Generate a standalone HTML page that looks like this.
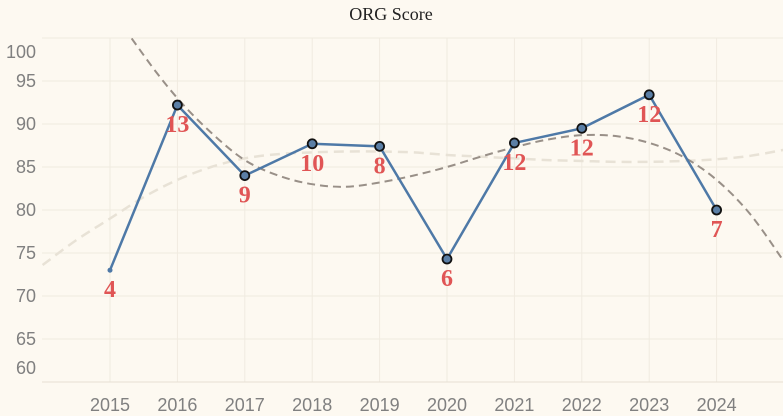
<!DOCTYPE html>
<html><head><meta charset="utf-8">
<style>
html,body{margin:0;padding:0;background:#fdf9f1;}
svg{display:block;font-family:"Liberation Serif",serif;}
</style></head>
<body>
<svg id="chart" width="783" height="416" viewBox="0 0 783 416">
<rect width="783" height="416" fill="#fdf9f1"/>
<text x="391" y="20" text-anchor="middle" font-size="18" fill="#222">ORG Score</text>
<defs><clipPath id="clip"><rect x="42" y="38" width="741" height="344"/></clipPath></defs>
<g id="grid"></g><g id="yaxis"></g><g id="xaxis"></g><g id="trends"></g><g id="series"></g><g id="labels"></g>
</svg>
<script>
const years=[2015,2016,2017,2018,2019,2020,2021,2022,2023,2024];
const scores=[73.0,92.2,84.0,87.7,87.4,74.3,87.8,89.5,93.4,80.0];
const counts=[4,13,9,10,8,6,12,12,12,7];
const yTicks=[60,65,70,75,80,85,90,95,100];
const trendYears=[2014,2014.5,2015,2015.5,2016,2016.5,2017,2017.5,2018,2018.5,2019,2019.5,2020,2020.5,2021,2021.5,2022,2022.5,2023,2023.5,2024,2024.5,2025];
const trendDark=[125,113,104,98,93,89,85.8,84,83,82.7,83.2,84,85,86.2,87.3,88.2,88.7,88.6,87.8,86.2,83.5,79.5,74];
const trendLight=[73.6,76.5,79,81.5,83.5,85,86,86.5,86.7,86.8,86.8,86.7,86.4,86.2,86,85.8,85.7,85.6,85.6,85.7,85.9,86.3,87];
const NS="http://www.w3.org/2000/svg";
const X=y=>110+(y-2015)*67.4;
const Y=v=>124+(90-v)*8.6;
function mk(tag,attrs,parent){const e=document.createElementNS(NS,tag);for(const k in attrs)e.setAttribute(k,attrs[k]);document.getElementById(parent).appendChild(e);return e;}
yTicks.forEach(t=>{
  const l=mk('line',{x1:42,x2:783,y1:Y(t),y2:Y(t),stroke:'#f0ebe0','stroke-width':1},'grid');
  
  
  let ty=Y(t)+6; if(t===100) ty=58; if(t===60) ty=374;
  const tx=mk('text',{x:36,y:ty,'text-anchor':'end','font-size':18,fill:'#808080','font-family':'"Liberation Sans",sans-serif'},'yaxis');
  tx.textContent=t;
  
  
});
years.forEach(y=>{
  const l=mk('line',{x1:X(y),x2:X(y),y1:38,y2:382,stroke:'#f0ebe0','stroke-width':1},'grid');
  
  
  const tx=mk('text',{x:X(y),y:411,'text-anchor':'middle','font-size':18,fill:'#808080','font-family':'"Liberation Sans",sans-serif'},'xaxis');
  tx.textContent=y;
  
  
});
const ax=mk('line',{x1:42,x2:783,y1:382,y2:382,stroke:'#e6e0d4'},'xaxis');


function smooth(xs,vs){const p=xs.map((x,i)=>[X(x),Y(vs[i])]);let d=`M${p[0][0]},${p[0][1]}`;
  for(let i=0;i<p.length-1;i++){const p0=p[i-1]||p[i],p1=p[i],p2=p[i+1],p3=p[i+2]||p2;
    d+=` C${p1[0]+(p2[0]-p0[0])/6},${p1[1]+(p2[1]-p0[1])/6} ${p2[0]-(p3[0]-p1[0])/6},${p2[1]-(p3[1]-p1[1])/6} ${p2[0]},${p2[1]}`;}
  return d;}
const tl=mk('path',{d:smooth(trendYears,trendLight),fill:'none',stroke:'#e8e2d6','stroke-width':2.5,'stroke-dasharray':'10,6','clip-path':'url(#clip)'},'trends');


const td=mk('path',{d:smooth(trendYears,trendDark),fill:'none',stroke:'#999088','stroke-width':2,'stroke-dasharray':'8,5','clip-path':'url(#clip)'},'trends');


const ln=mk('polyline',{points:years.map((y,i)=>X(y)+','+Y(scores[i])).join(' '),fill:'none',stroke:'#4e79a7','stroke-width':2.5},'series');


years.forEach((y,i)=>{
  const first=i===0;
  const c=mk('circle',{cx:X(y),cy:Y(scores[i]),r:first?2.5:4.5,fill:first?'#4e79a7':'#5b7fa6',stroke:first?'none':'#111','stroke-width':1.8},'series');
  
  
  const t=mk('text',{x:X(y),y:Y(scores[i])+27,'text-anchor':'middle','font-size':24,'font-weight':'bold',fill:'#e05555'},'labels');
  t.textContent=counts[i];
  
  
});
</script>
</body></html>
